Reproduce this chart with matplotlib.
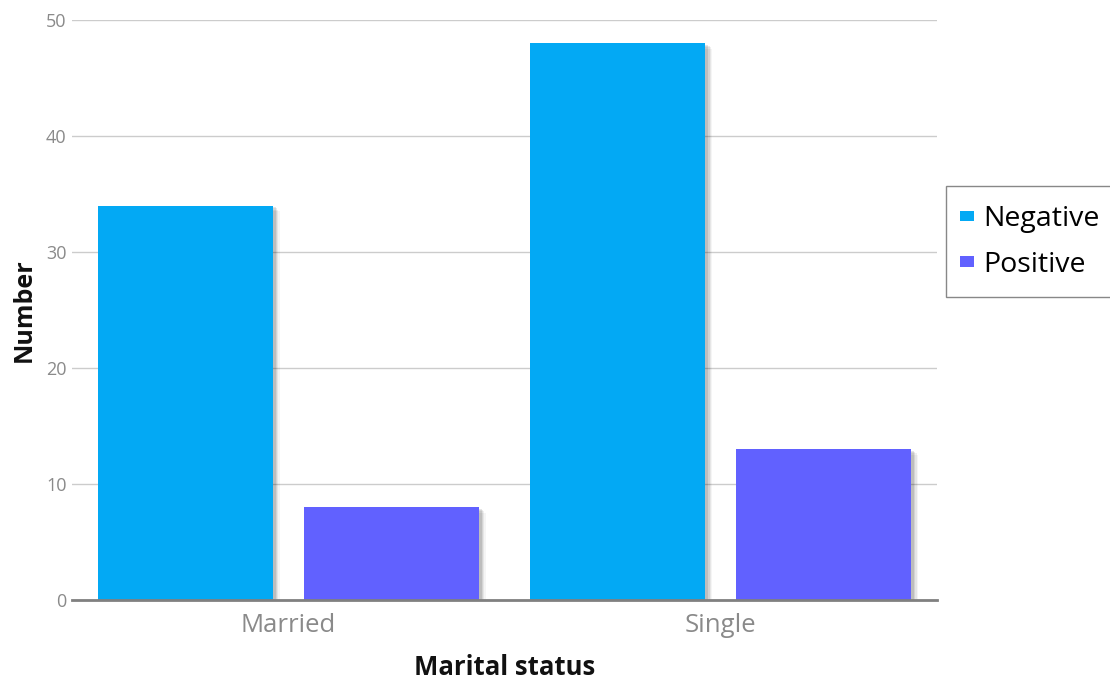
import matplotlib
matplotlib.use("Agg")
import matplotlib.pyplot as plt
import matplotlib.patheffects as pe
from matplotlib.patches import Patch, Rectangle
import numpy as np

categories = ["Married", "Single"]
series_names = ["Negative", "Positive"]
negative = [34, 48]
positive = [8, 13]
y_ticks = [0, 10, 20, 30, 40, 50]

colors = ["#03A9F4", "#6161FF"]

plt.rcParams["font.family"] = ["Open Sans", "DejaVu Sans"]

W, H = 1110, 679
fig = plt.figure(figsize=(W / 100, H / 100), dpi=100)
ax = fig.add_axes([72 / W, 1 - 600 / H, 865 / W, 580 / H])

x = np.arange(len(categories))
width = 0.405
offset = 0.238

# soft drop shadow built from a few stacked offset copies
shadow = [
    pe.SimplePatchShadow(offset=(5, -4), shadow_rgbFace="#000000", alpha=0.04),
    pe.SimplePatchShadow(offset=(4, -3), shadow_rgbFace="#000000", alpha=0.06),
    pe.SimplePatchShadow(offset=(3, -2), shadow_rgbFace="#000000", alpha=0.08),
    pe.SimplePatchShadow(offset=(2, -1), shadow_rgbFace="#000000", alpha=0.10),
    pe.Normal(),
]

for vals, off, col, name in zip([negative, positive], [-offset, offset], colors, series_names):
    bars = ax.bar(x + off, vals, width=width, color=col, zorder=3, linewidth=0)
    for b in bars:
        b.set_path_effects(shadow)

ax.set_xlim(-0.5, 1.5)
ax.set_ylim(0, 50)
ax.set_yticks(y_ticks)
ax.set_xticks(x)
ax.set_xticklabels(categories)

ax.grid(axis="y", color="#cccccc", linewidth=1, zorder=0)
ax.set_axisbelow(True)
for s in ["top", "right", "left"]:
    ax.spines[s].set_visible(False)
ax.spines["bottom"].set_color("#808080")
ax.spines["bottom"].set_linewidth(2)
ax.spines["bottom"].set_zorder(4)

ax.tick_params(axis="y", length=0, pad=4, labelsize=13, labelcolor="#8a8a8a")
ax.tick_params(axis="x", length=0, pad=9, labelsize=18.5, labelcolor="#8a8a8a")

ax.set_xlabel("Marital status", fontsize=18.5, fontweight="bold", labelpad=12, color="#111111")
ax.yaxis.set_label_coords(-0.041, 0.475)
ax.set_ylabel("Number", fontsize=18, fontweight="bold", color="#111111")

# legend box running past the right edge of the figure
fig.patches.append(Rectangle((946 / W, 1 - 297 / H), 180 / W, 111 / H,
                             transform=fig.transFigure, facecolor="white",
                             edgecolor="#888888", linewidth=1, zorder=5))

handles = [Patch(facecolor=c, edgecolor="none", label=n) for c, n in zip(colors, series_names)]
leg = fig.legend(
    handles=handles,
    loc="center left",
    bbox_to_anchor=(960 / W, 1 - 242 / H),
    fontsize=20.5,
    frameon=False,
    handlelength=0.5,
    handleheight=0.2,
    handletextpad=0.3,
    borderpad=0.0,
    borderaxespad=0,
    labelspacing=0.62,
)
leg.set_zorder(6)

fig.savefig("out.png", dpi=100)
